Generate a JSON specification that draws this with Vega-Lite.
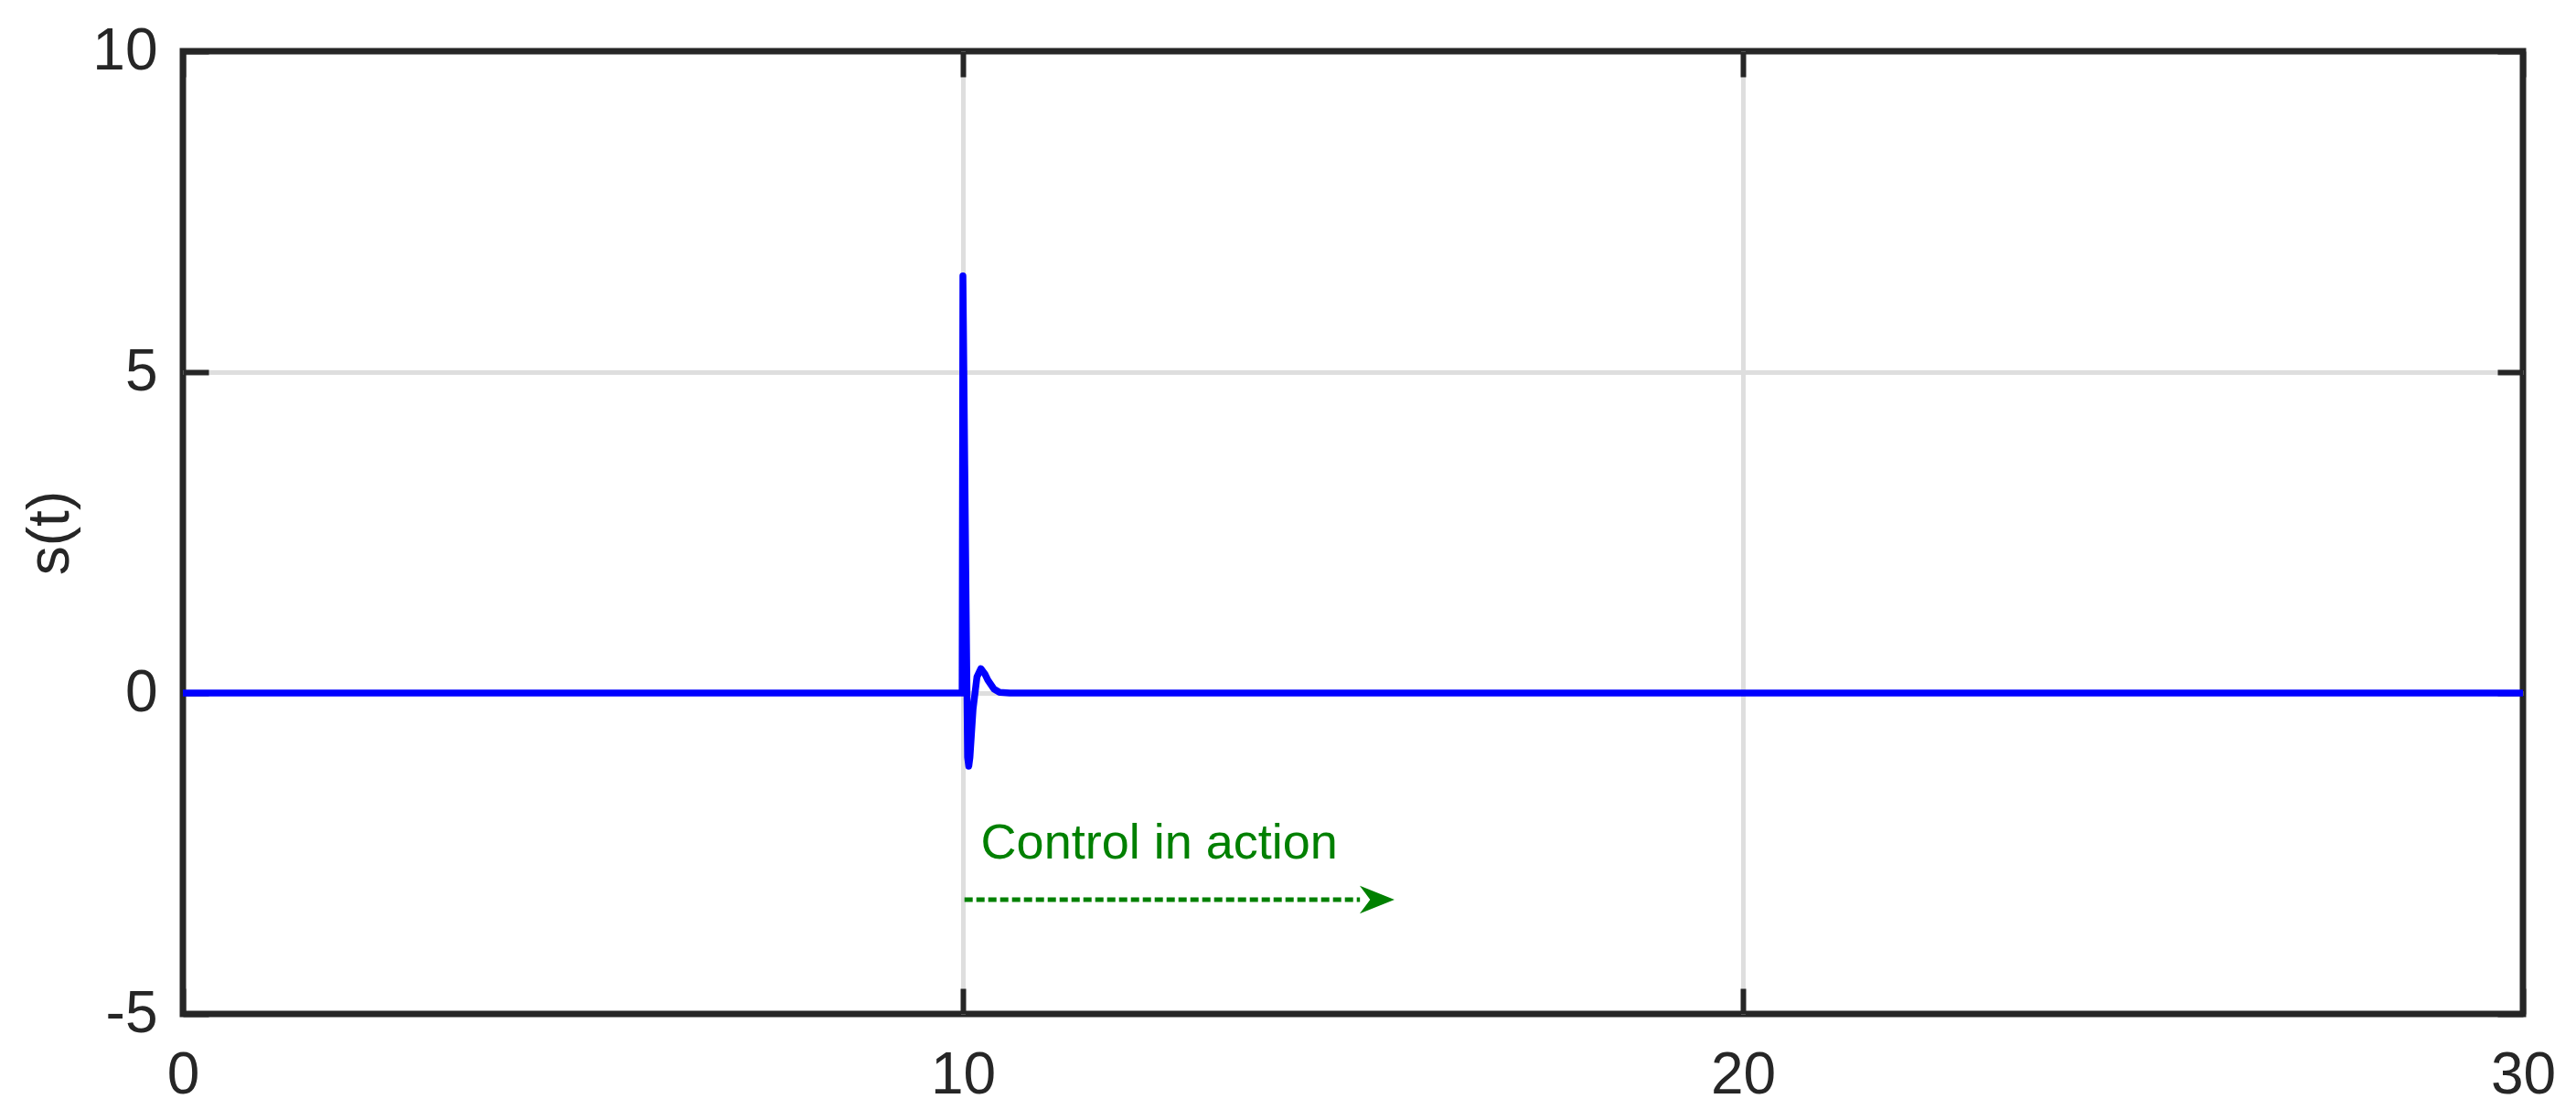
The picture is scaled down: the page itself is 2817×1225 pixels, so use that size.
{
  "$schema": "https://vega.github.io/schema/vega-lite/v6.json",
  "width": 2559,
  "height": 1053,
  "autosize": {"type": "none"},
  "padding": {"left": 200, "top": 56, "right": 58, "bottom": 116},
  "background": "white",
  "config": {
    "view": {"stroke": "#262626", "strokeWidth": 7},
    "axis": {
      "labelFont": "Liberation Sans",
      "labelFontSize": 64,
      "labelColor": "#262626",
      "titleFont": "Liberation Sans",
      "titleFontSize": 64,
      "titleColor": "#262626",
      "titleFontWeight": "normal",
      "tickColor": "#262626",
      "tickWidth": 6,
      "tickSize": -28,
      "domain": false,
      "gridColor": "#dedede",
      "gridWidth": 5,
      "labelFlush": false
    }
  },
  "datasets": {
    "s": [
      {"t": 0, "s": 0},
      {"t": 9.99, "s": 0},
      {"t": 10.0, "s": 6.5},
      {"t": 10.06, "s": -1.0},
      {"t": 10.075, "s": -1.14},
      {"t": 10.09, "s": -1.0},
      {"t": 10.13, "s": -0.25},
      {"t": 10.18, "s": 0.25},
      {"t": 10.23, "s": 0.38},
      {"t": 10.28, "s": 0.3},
      {"t": 10.32, "s": 0.2},
      {"t": 10.4, "s": 0.06},
      {"t": 10.47, "s": 0.01},
      {"t": 10.6, "s": 0},
      {"t": 30, "s": 0}
    ]
  },
  "layer": [
    {
      "data": {"name": "s"},
      "mark": {"type": "line", "color": "#0000ff", "strokeWidth": 7.5, "strokeJoin": "round", "clip": true},
      "encoding": {
        "x": {
          "field": "t",
          "type": "quantitative",
          "scale": {"domain": [0, 30], "nice": false, "zero": false},
          "axis": {
            "orient": "bottom",
            "values": [0, 10, 20, 30],
            "title": null,
            "labelPadding": 63,
            "labelExpr": "'' + datum.value",
            "grid": true,
            "gridColor": {"condition": {"test": "datum.value == 0 || datum.value == 30", "value": "transparent"}, "value": "#dedede"}
          }
        },
        "y": {
          "field": "s",
          "type": "quantitative",
          "scale": {"domain": [-5, 10], "nice": false, "zero": false},
          "axis": {
            "orient": "left",
            "values": [-5, 0, 5, 10],
            "title": "s(t)",
            "labelPadding": 56,
            "titlePadding": 13,
            "labelExpr": "'' + datum.value",
            "grid": true,
            "gridColor": {"condition": {"test": "datum.value == -5 || datum.value == 10", "value": "transparent"}, "value": "#dedede"}
          }
        }
      }
    },
    {
      "data": {"values": [{"label": "Control in action"}]},
      "mark": {"type": "text", "font": "Liberation Sans", "fontSize": 54, "color": "#008000", "align": "left", "baseline": "alphabetic"},
      "encoding": {
        "text": {"field": "label"},
        "x": {"datum": 10.23, "type": "quantitative", "axis": {"orient": "top", "values": [0, 10, 20, 30], "labels": false, "title": null, "grid": false}},
        "y": {"datum": -2.585, "type": "quantitative", "axis": {"orient": "right", "values": [-5, 0, 5, 10], "labels": false, "title": null, "grid": false}}
      }
    },
    {
      "data": {"values": [{"label": "Control in action"}]},
      "mark": {"type": "rule", "color": "#008000", "strokeWidth": 5, "strokeDash": [9, 4]},
      "encoding": {
        "x": {"datum": 10.02, "type": "quantitative", "axis": null},
        "x2": {"datum": 15.09},
        "y": {"datum": -3.22, "type": "quantitative", "axis": null}
      }
    },
    {
      "data": {"values": [{"label": "Control in action"}]},
      "mark": {"type": "point", "shape": "M -1 -0.8 L 1 0 L -1 0.8 L -0.4 0 Z", "filled": true, "color": "#008000", "opacity": 1, "size": 1444},
      "encoding": {
        "x": {"datum": 15.31, "type": "quantitative", "axis": null},
        "y": {"datum": -3.22, "type": "quantitative", "axis": null}
      }
    }
  ],
  "resolve": {"axis": {"x": "independent", "y": "independent"}}
}
